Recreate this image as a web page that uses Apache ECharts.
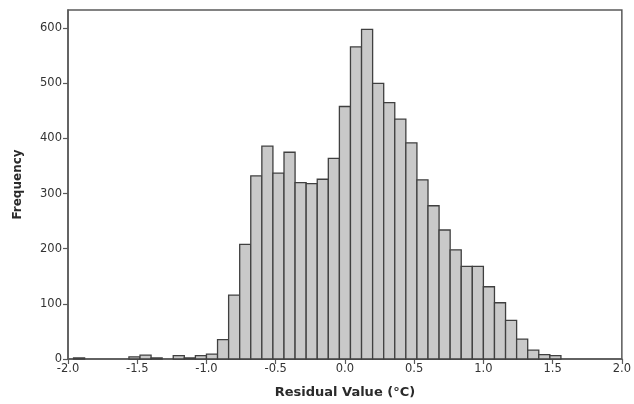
<!DOCTYPE html>
<html>
<head>
<meta charset="utf-8">
<script src="https://cdn.jsdelivr.net/npm/echarts@6/dist/echarts.min.js"></script>
<style>html,body{margin:0;padding:0;background:#fff;}#c{width:634px;height:404px;}</style>
</head>
<body>
<div id="c"></div>
<script>
// Histogram bin centres (°C), bin width 0.08
const binCenters = [-1.92, -1.52, -1.44, -1.36, -1.20, -1.12, -1.04, -0.96, -0.88, -0.80, -0.72, -0.64, -0.56, -0.48, -0.40, -0.32, -0.24, -0.16, -0.08, 0.00, 0.08, 0.16, 0.24, 0.32, 0.40, 0.48, 0.56, 0.64, 0.72, 0.80, 0.88, 0.96, 1.04, 1.12, 1.20, 1.28, 1.36, 1.44, 1.52];
const frequencies = [2, 4, 7, 2, 6, 2, 6, 9, 35, 116, 208, 332, 386, 337, 375, 320, 318, 326, 364, 458, 566, 598, 500, 465, 435, 392, 325, 278, 234, 198, 168, 168, 131, 102, 70, 36, 16, 8, 6];
const binWidth = 0.08;
const yTicks = [0, 100, 200, 300, 400, 500, 600];
const xTitle = 'Residual Value (°C)';
const yTitle = 'Frequency';

const chart = echarts.init(document.getElementById('c'), null, {renderer: 'canvas'});
const data = binCenters.map((c, i) => [c, frequencies[i]]);
const font = 'DejaVu Sans';
chart.setOption({
  animation: false,
  grid: {left: 68, right: 12, top: 10, bottom: 45, show: true, borderColor: '#5a5a5a', borderWidth: 1.5},
  xAxis: {
    type: 'value', min: -2, max: 2, interval: 0.5,
    splitLine: {show: false},
    axisLine: {show: true, onZero: false, lineStyle: {color: '#5a5a5a', width: 1.5}},
    axisTick: {show: true, length: 5, lineStyle: {color: '#5a5a5a', width: 1.2}},
    axisLabel: {color: '#333', fontFamily: font, fontSize: 11.5, margin: 4, formatter: v => v.toFixed(1)},
    name: xTitle, nameLocation: 'middle', nameGap: 27,
    nameTextStyle: {fontFamily: font, fontWeight: 'bold', fontSize: 13, color: '#2a2a2a'}
  },
  yAxis: {
    type: 'value', min: 0, max: 633, interval: 100,
    splitLine: {show: false},
    axisLine: {show: true, onZero: false, lineStyle: {color: '#5a5a5a', width: 1.5}},
    axisTick: {show: true, length: 5, customValues: yTicks, lineStyle: {color: '#5a5a5a', width: 1.2}},
    axisLabel: {color: '#333', fontFamily: font, fontSize: 11.5, margin: 6, customValues: yTicks},
    name: yTitle, nameLocation: 'middle', nameGap: 44,
    nameTextStyle: {fontFamily: font, fontWeight: 'bold', fontSize: 12, color: '#2a2a2a'}
  },
  series: [{
    type: 'custom',
    data: data,
    encode: {x: 0, y: 1},
    renderItem: function (params, api) {
      const c = api.value(0), v = api.value(1);
      const p1 = api.coord([c - binWidth / 2, v]);
      const p2 = api.coord([c + binWidth / 2, 0]);
      return {
        type: 'rect',
        shape: {x: p1[0], y: p1[1], width: p2[0] - p1[0], height: p2[1] - p1[1]},
        style: {fill: '#c9c9c9', stroke: '#404040', lineWidth: 1.3}
      };
    }
  }]
});
</script>
</body>
</html>
